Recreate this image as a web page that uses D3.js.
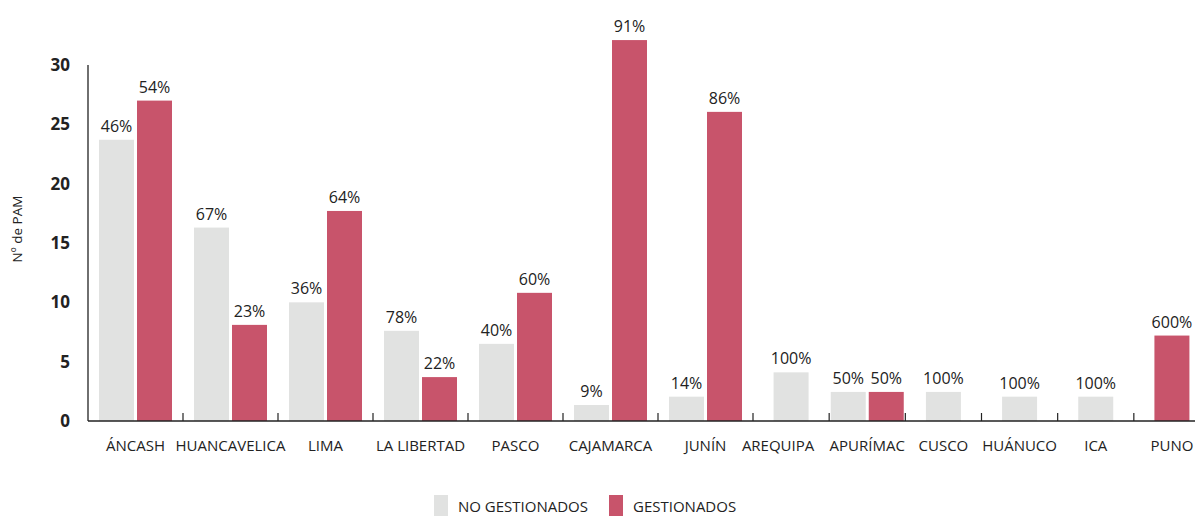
<!DOCTYPE html>
<html>
<head>
<meta charset="utf-8">
<script src="https://cdn.jsdelivr.net/npm/d3@7"></script>
<style>
    body { margin: 0; background: #fff; }
    text { font-family: "Open Sans", "Noto Sans", sans-serif; fill: #222; }
</style>
</head>
<body>
<div id="chart"></div>
<script>
var regions = ['ÁNCASH', 'HUANCAVELICA', 'LIMA', 'LA LIBERTAD', 'PASCO', 'CAJAMARCA', 'JUNÍN',
    'AREQUIPA', 'APURÍMAC', 'CUSCO', 'HUÁNUCO', 'ICA', 'PUNO'];
var noGestionados = [23.7, 16.3, 10, 7.6, 6.5, 1.35, 2.05, 4.1, 2.45, 2.45, 2.05, 2.05, 0];
var gestionados = [27, 8.1, 17.7, 3.7, 10.8, 32.1, 26.05, 0, 2.45, 0, 0, 0, 7.2];
var pctNo = ['46%', '67%', '36%', '78%', '40%', '9%', '14%', '100%', '50%', '100%', '100%', '100%', ''];
var pctSi = ['54%', '23%', '64%', '22%', '60%', '91%', '86%', '', '50%', '', '', '', '600%'];
var yTicks = [0, 5, 10, 15, 20, 25, 30];
var seriesNames = ['NO GESTIONADOS', 'GESTIONADOS'];
var colors = ['#e1e2e1', '#c8546b'];

function drawChart() {
    var width = 1195, height = 516;
    var base = 421, left = 88;
    var barW = 35, gap = 3;

    var svg = d3.select('#chart')
        .append('svg')
        .attr('width', width)
        .attr('height', height);

    var y = d3.scaleLinear().domain([0, 30]).range([base, 65]);
    // group edges: the last groups of the original are squeezed together
    var x = d3.scaleLinear().domain([0, 7, 13]).range([left, 753, 1210]);

    // y axis labels
    svg.selectAll('.ytick')
        .data(yTicks)
        .enter().append('text')
        .attr('class', 'ytick')
        .attr('x', 70)
        .attr('y', function (d) { return y(d); })
        .attr('dy', '0.36em')
        .style('text-anchor', 'end')
        .style('font-weight', 'bold')
        .style('font-size', '17px')
        .text(function (d) { return d; });

    svg.append('text')
        .attr('transform', 'translate(22,' + 229 + ') rotate(-90)')
        .style('text-anchor', 'middle')
        .style('font-size', '13.5px')
        .text('Nº de PAM');

    var rows = regions.map(function (r, i) {
        return {name: r, i: i, vals: [noGestionados[i], gestionados[i]], pcts: [pctNo[i], pctSi[i]]};
    });

    var bars = [];
    rows.forEach(function (row) {
        var c = (x(row.i) + x(row.i + 1)) / 2;
        var shown = row.vals.filter(function (v) { return v > 0; }).length;
        row.vals.forEach(function (v, k) {
            if (v <= 0) return;
            var x0 = shown === 2 ? (k === 0 ? c - gap / 2 - barW : c + gap / 2) : c - barW / 2;
            bars.push({x: x0, v: v, k: k, label: row.pcts[k]});
        });
    });

    svg.selectAll('.bar')
        .data(bars)
        .enter().append('rect')
        .attr('class', 'bar')
        .attr('x', function (d) { return d.x; })
        .attr('width', barW)
        .attr('y', function (d) { return y(d.v); })
        .attr('height', function (d) { return base - y(d.v); })
        .attr('fill', function (d) { return colors[d.k]; });

    svg.selectAll('.pct')
        .data(bars)
        .enter().append('text')
        .attr('class', 'pct')
        .attr('x', function (d) { return d.x + barW / 2; })
        .attr('y', function (d) { return y(d.v) - 8; })
        .style('text-anchor', 'middle')
        .style('font-size', '16px')
        .text(function (d) { return d.label; });

    // axis lines
    svg.append('line')
        .attr('x1', left).attr('x2', left)
        .attr('y1', y(30)).attr('y2', base)
        .attr('stroke', '#222').attr('stroke-width', 1.3);
    svg.append('line')
        .attr('x1', left).attr('x2', width)
        .attr('y1', base).attr('y2', base)
        .attr('stroke', '#222').attr('stroke-width', 1.3);

    svg.selectAll('.sep')
        .data(d3.range(1, regions.length))
        .enter().append('line')
        .attr('class', 'sep')
        .attr('x1', function (d) { return x(d); })
        .attr('x2', function (d) { return x(d); })
        .attr('y1', base - 8).attr('y2', base)
        .attr('stroke', '#222').attr('stroke-width', 1.2);

    svg.selectAll('.xlab')
        .data(rows)
        .enter().append('text')
        .attr('class', 'xlab')
        .attr('x', function (d) { return (x(d.i) + x(d.i + 1)) / 2 - (d.i === 7 ? 13 : 0); })
        .attr('y', 451)
        .style('text-anchor', 'middle')
        .style('font-size', '15px')
        .text(function (d) { return d.name; });

    // legend
    var legend = svg.selectAll('.leg')
        .data(seriesNames)
        .enter().append('g')
        .attr('class', 'leg')
        .attr('transform', function (d, i) { return 'translate(' + (i === 0 ? 434 : 609) + ',0)'; });
    legend.append('rect')
        .attr('y', 495).attr('width', 14).attr('height', 21)
        .attr('fill', function (d, i) { return colors[i]; });
    legend.append('text')
        .attr('x', 24).attr('y', 512)
        .style('font-size', '15px')
        .text(function (d) { return d; });
}

drawChart();
</script>
</body>
</html>
